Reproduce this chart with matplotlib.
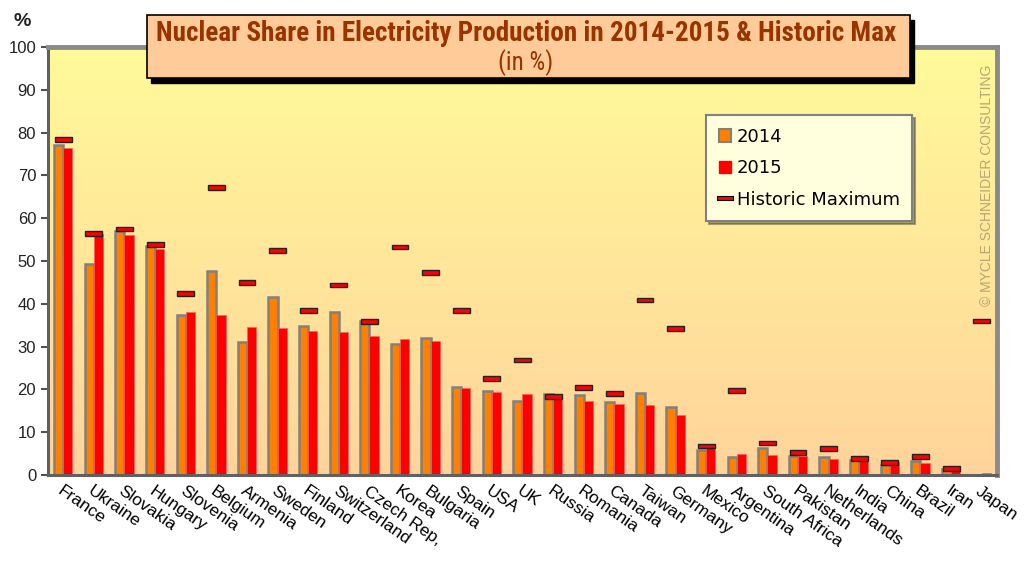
import numpy as np
import matplotlib
matplotlib.use("Agg")
from matplotlib import pyplot as plt
from matplotlib.patches import Patch, Rectangle
from matplotlib.lines import Line2D
from matplotlib.path import Path

# data
countries = ["France", "Ukraine", "Slovakia", "Hungary", "Slovenia", "Belgium", "Armenia",
             "Sweden", "Finland", "Switzerland", "Czech Rep,", "Korea", "Bulgaria", "Spain",
             "USA", "UK", "Russia", "Romania", "Canada", "Taiwan", "Germany", "Mexico",
             "Argentina", "South Africa", "Pakistan", "Netherlands", "India", "China",
             "Brazil", "Iran", "Japan"]
share_2014 = [77.0, 49.4, 56.9, 53.6, 37.3, 47.7, 31.0, 41.6, 34.7, 38.1, 36.0, 30.5, 31.9,
              20.6, 19.6, 17.4, 18.9, 18.7, 17.0, 19.2, 16.0, 5.8, 4.1, 6.4, 4.4, 4.2,
              3.5, 2.4, 3.2, 1.5, 0.0]
share_2015 = [76.3, 56.3, 56.0, 52.7, 38.0, 37.5, 34.5, 34.3, 33.7, 33.4, 32.5, 31.7, 31.3,
              20.3, 19.5, 19.0, 18.6, 17.3, 16.6, 16.3, 14.1, 6.8, 4.8, 4.7, 4.4, 3.7,
              3.5, 3.0, 2.8, 1.3, 0.5]
historic_max = [78.4, 56.4, 57.5, 53.8, 42.4, 67.2, 44.9, 52.4, 38.5, 44.4, 35.9, 53.3, 47.3,
                38.5, 22.5, 26.9, 18.4, 20.5, 19.1, 40.9, 34.2, 6.8, 19.8, 7.5, 5.3, 6.2,
                3.8, 3.0, 4.3, 1.5, 36.0]

orange = "#FF8000"
red = "#FF0000"
brown = "#993300"

plt.rcParams["font.family"] = ["Liberation Sans", "DejaVu Sans"]

fig = plt.figure(figsize=(10.27, 5.63), dpi=100)
ax = fig.add_axes([0.0467, 0.1563, 0.9241, 0.7602])

x = np.arange(len(countries))
n = len(countries)

# gradient background, yellow at top to peach at bottom
grad = np.linspace(0, 1, 256).reshape(-1, 1)
top = np.array([1.0, 0.98, 0.60])
bot = np.array([1.0, 0.83, 0.61])
img = top * (1 - grad[..., None]) + bot * grad[..., None]
ax.imshow(img, extent=[-0.5, n - 0.5, 0, 100], origin="upper", aspect="auto", zorder=0)

ax.bar(x - 0.15, share_2014, width=0.3, color=orange, edgecolor="#808080", linewidth=1.8, zorder=2)
ax.bar(x + 0.15, share_2015, width=0.3, color=red, edgecolor="#FF6060", linewidth=0.5, zorder=2)
ax.bar(x, 1.1, bottom=np.array(historic_max) - 0.55, width=0.55, color=red,
       edgecolor="#222222", linewidth=1.0, zorder=3)

ax.set_xlim(-0.5, n - 0.5)
ax.set_ylim(0, 100)
ax.set_yticks(range(0, 101, 10))
ax.tick_params(axis="y", labelsize=12, length=5, width=1.5, color="#505050", labelcolor="#222222")
ax.set_xticks(x)
ax.set_xticklabels(countries, rotation=-35, ha="left", rotation_mode="anchor", fontsize=12.5)
ax.tick_params(axis="x", length=0, pad=6)

for s in ["left", "bottom"]:
    ax.spines[s].set_color("#606060")
    ax.spines[s].set_linewidth(2.2)
for s in ["top", "right"]:
    ax.spines[s].set_color("#8a8a8a")
    ax.spines[s].set_linewidth(3.5)

fig.text(0.022, 0.962, "%", fontsize=14, fontweight="bold", ha="center", va="center", color="#222222")

# title box with shadow
bx, by, bw, bh = 147 / 1027, 1 - 78 / 563, (910 - 147) / 1027, 63 / 563
fig.patches.append(Rectangle((bx + 4 / 1027, by - 5 / 563), bw, bh, transform=fig.transFigure,
                             facecolor="black", edgecolor="black", zorder=5))
fig.patches.append(Rectangle((bx, by), bw, bh, transform=fig.transFigure,
                             facecolor="#FFCC99", edgecolor="black", linewidth=1.2, zorder=6))
title_font = ["Roboto Condensed", "DejaVu Sans"]
fig.text(0.512, 0.94, "Nuclear Share in Electricity Production in 2014-2015 & Historic Max",
         fontsize=19.5, fontweight="bold", color=brown, ha="center", va="center",
         family=title_font, zorder=7)
fig.text(0.512, 0.888, "(in %)", fontsize=18, color=brown, ha="center", va="center",
         family=title_font, zorder=7)

# legend
rect_marker = Path([(-1, -0.3), (1, -0.3), (1, 0.3), (-1, 0.3), (-1, -0.3)],
                   [Path.MOVETO, Path.LINETO, Path.LINETO, Path.LINETO, Path.CLOSEPOLY])
handles = [Patch(facecolor=orange, edgecolor="#808080", linewidth=1.5),
           Patch(facecolor=red, edgecolor=red),
           Line2D([], [], linestyle="none", marker=rect_marker, markersize=11,
                  markerfacecolor=red, markeredgecolor="black", markeredgewidth=0.8)]
leg = ax.legend(handles, ["2014", "2015", "Historic Maximum"], loc="upper left",
                bbox_to_anchor=(706 / 1027, 1 - 115 / 563), bbox_transform=fig.transFigure,
                frameon=True, facecolor="#FFFFDD", edgecolor="#808080",
                fancybox=False, shadow=True, handlelength=0.7, handleheight=0.7,
                handletextpad=0.3, labelspacing=0.75, borderpad=0.7, borderaxespad=0,
                prop={"family": "DejaVu Sans", "size": 13})
leg.get_frame().set_linewidth(1.5)
leg.get_frame().set_alpha(1)

fig.text(0.961, 0.67, "© MYCLE SCHNEIDER CONSULTING", rotation=90, fontsize=10,
         color="#B8A570", ha="center", va="center")

fig.savefig("out.png", dpi=100)
